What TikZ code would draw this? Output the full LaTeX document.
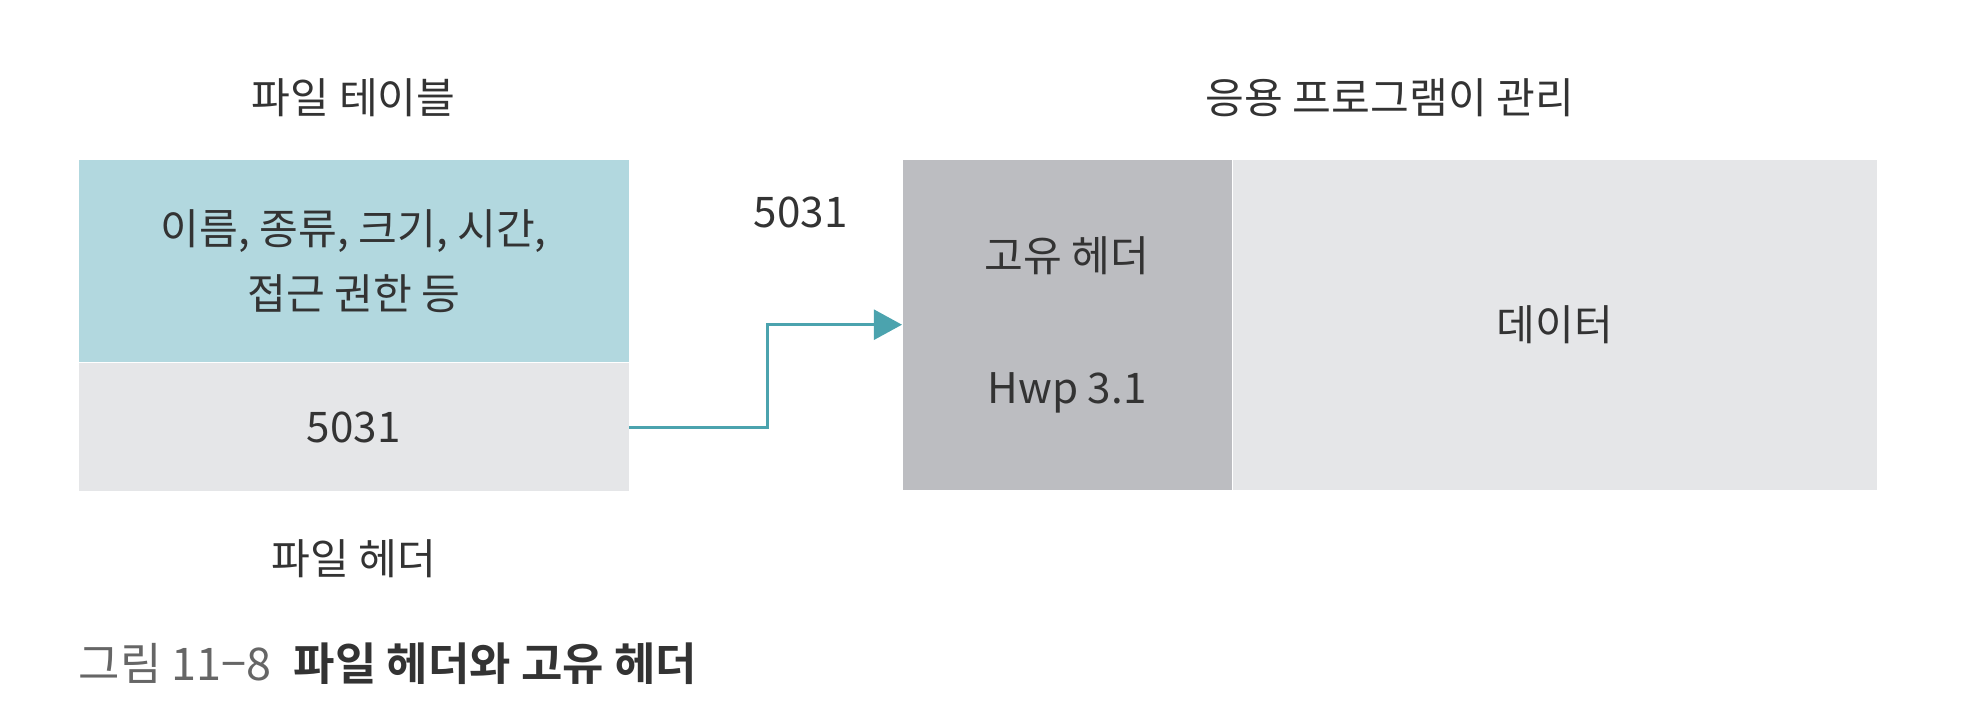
\documentclass[tikz,border=0pt]{standalone}
\usepackage{fontspec}
\setmainfont{Noto Sans CJK KR}[BoldFont={Noto Sans CJK KR Bold}]
\usetikzlibrary{positioning,calc,arrows.meta}
\definecolor{tblblue}{HTML}{B2D8DF}
\definecolor{hdrgray}{HTML}{E5E6E8}
\definecolor{owngray}{HTML}{BCBDC1}
\definecolor{linkteal}{HTML}{4BA3AE}
\definecolor{txtgray}{HTML}{333333}
\definecolor{capgray}{HTML}{666666}
\tikzset{>={Triangle[length=8pt,width=8.5pt]}}

\begin{document}
\begin{tikzpicture}[field/.style={inner sep=0pt, minimum width=#1, align=center, text=txtgray},
		label/.style={text=txtgray}, node distance=0pt,
		every node/.append style={font=\fontsize{12pt}{18.5pt}\selectfont}]
		\useasboundingbox (0,0) rectangle (19.68,-7.02);
		% file table
		\node[field=5.5cm, fill=tblblue, minimum height=2.02cm, anchor=north west] (attr) at (0.78,-1.59) {이름, 종류, 크기, 시간,\\접근 권한 등};
		\node[field=5.5cm, fill=hdrgray, minimum height=1.28cm] (fhdr) [below=of attr] {5031};
		\node[label] (tbltitle) [above=0.3cm of attr] {파일 테이블};
		\node[label] (hdrtitle) [below=0.35cm of fhdr] {파일 헤더};
		% file contents
		\node[field=3.29cm, fill=owngray, minimum height=3.3cm, anchor=north west] (own) at (9.02,-1.59) {고유 헤더\\[19pt]Hwp 3.1};
		\node[field=6.44cm, fill=hdrgray, minimum height=3.3cm] (data) [right=of own] {데이터};
		\node[label] (num) [below left=0.25cm and 0.42cm of own.north west] {5031};
		\node[label, anchor=south] (apptitle) at ($(own.north west)!0.5!(data.north east)+(0,0.3)$) {응용 프로그램이 관리};
		\draw[->, linkteal, line width=0.9pt] (fhdr.east) -- ++(1.38,0) |- (own.west);
		% caption
		\node[anchor=west, inner xsep=0pt, font=\fontsize{12.8pt}{15pt}\selectfont] (cap) at ($(fhdr.south west)+(0,-1.72)$) {{\color{capgray}그림 11−8}\hspace{0.5em}{\bfseries\color{txtgray}파일 헤더와 고유 헤더}};
	\end{tikzpicture}
\end{document}
